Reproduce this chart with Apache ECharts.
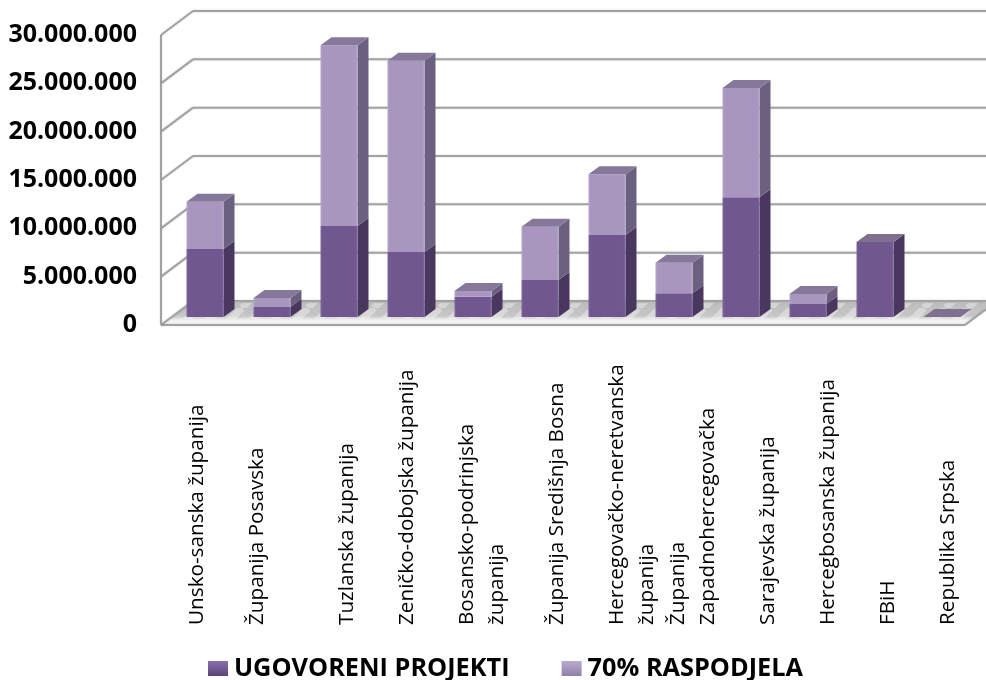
<!DOCTYPE html>
<html>
<head>
<meta charset="utf-8">
<style>html,body{margin:0;padding:0;background:#fff}#c{width:986px;height:680px;filter:blur(0.35px)}</style>
<script src="https://cdn.jsdelivr.net/npm/echarts@6/dist/echarts.min.js"></script>
</head>
<body>
<div id="c"></div>
<script>
var categories = ['Unsko-sanska županija','Županija Posavska','Tuzlanska županija','Zeničko-dobojska županija','Bosansko-podrinjska\nžupanija','Županija Središnja Bosna','Hercegovačko-neretvanska\nžupanija','Županija\nZapadnohercegovačka','Sarajevska županija','Hercegbosanska županija','FBiH','Republika Srpska'];
var ugovoreniProjekti = [7030000,1030000,9410000,6720000,2100000,3830000,8480000,2450000,12400000,1340000,7760000,0];
var raspodjela70 = [4900000,940000,18700000,19800000,600000,5500000,6300000,3150000,11300000,1040000,0,0];
var axisTicks = [0,5000000,10000000,15000000,20000000,25000000,30000000];
var seriesNames = ['UGOVORENI PROJEKTI','70% RASPODJELA'];

// layout of the pseudo-3D look (not data)
var WALL = [32,-24], BAR = [10.5,-8], DEPTH = [11,-8], BAR_W = 37, LABEL_Y = 625, LINE_GAP = 30.5;
var labelNudge = [2.5,-4.5,18.5,11.5,4.5,27.5,20.5,14.5,37.5,30.5,23.5,16.5];
var GRID_COL = '#a2a2a2';

var pat = document.createElement('canvas'); pat.width = 22; pat.height = 22;
var g = pat.getContext('2d'); g.strokeStyle = 'rgba(255,255,255,0.35)'; g.lineWidth = 7;
[[-22,22,0,0],[0,22,22,0],[22,22,44,0]].forEach(function(s){g.beginPath();g.moveTo(s[0],s[1]);g.lineTo(s[2],s[3]);g.stroke();});

function poly(pts, fill, extra){
  return Object.assign({type:'polygon', shape:{points:pts}, style:{fill:fill}, silent:true}, extra||{});
}
function wallItem(params, api){
  var i = api.value(0), v = api.value(1);
  var band = api.size([1,0])[0];
  var p = api.coord([0,v]); var x0 = p[0]-band/2, y = p[1];
  var x1 = x0 + band*categories.length;
  var line = function(a,b){return {type:'line', shape:{x1:a[0],y1:a[1],x2:b[0],y2:b[1]}, style:{stroke:GRID_COL,lineWidth:2,shadowColor:'rgba(0,0,0,0.15)',shadowBlur:2}};};
  var ch = [];
  if(v===0){
    var a=[x0,y], b=[x0+WALL[0],y+WALL[1]], c=[x1+WALL[0],y+WALL[1]], d=[x1,y];
    ch.push(poly([a,b,c,d], new echarts.graphic.LinearGradient(0,0,0,1,[{offset:0,color:'#d0d0d0'},{offset:0.1,color:'#bdbdbd'},{offset:0.62,color:'#c6c6c6'},{offset:0.8,color:'#f2f2f2'},{offset:1,color:'#f5f5f5'}])));
    ch.push(poly([[x0+4,y-6],[x0+WALL[0]-5,y+WALL[1]+2],[x1+WALL[0],y+WALL[1]+2],[x1+6,y-6]], {image:pat,repeat:'repeat'}));
    ch.push(line(a,d)); ch.push(line(d,c)); ch.push(line(a,b));
    ch.push(line(b,c));
    var top = api.coord([0,axisTicks[axisTicks.length-1]])[1];
    ch.push(line([x0,y],[x0,top]));
  } else {
    ch.push(line([x0,y],[x0+WALL[0],y+WALL[1]]));
    ch.push(line([x0+WALL[0],y+WALL[1]],[x1+WALL[0],y+WALL[1]]));
  }
  return {type:'group', children:ch};
}
function barRenderer(front, side, topc){
  return function(params, api){
    var i = api.value(0), s = api.value(1), e = api.value(2), isTop = api.value(3);
    var c0 = api.coord([i,s]), c1 = api.coord([i,e]);
    var xl = c0[0]+BAR[0]-BAR_W/2, xr = xl+BAR_W;
    var yb = c0[1]+BAR[1], yt = c1[1]+BAR[1];
    var dx = DEPTH[0], dy = DEPTH[1], ch = [];
    if(yb-yt>0.01){
      ch.push(poly([[xr,yb],[xr+dx,yb+dy],[xr+dx,yt+dy],[xr,yt]], side));
      ch.push(poly([[xl,yb],[xr,yb],[xr,yt],[xl,yt]], new echarts.graphic.LinearGradient(0,0,1,0,[{offset:0,color:front[1]},{offset:0.06,color:front[0]},{offset:0.94,color:front[0]},{offset:1,color:front[1]}])));
    }
    if(isTop){
      ch.push(poly([[xl,yt],[xl+dx,yt+dy],[xr+dx,yt+dy],[xr,yt]], topc));
    }
    return {type:'group', children:ch};
  };
}
function labelItem(params, api){
  var i = api.value(0);
  var x = api.coord([i,0])[0] + labelNudge[i];
  var lines = categories[i].split('\n');
  return {type:'group', children: lines.map(function(t,j){
    return {type:'text', x:x+j*LINE_GAP, y:LABEL_Y, rotation:Math.PI/2, silent:true,
      style:{text:t, fill:'#000', font:'20.7px "Open Sans"', align:'left', verticalAlign:'middle'}};
  })};
}
var stackA = categories.map(function(c,i){return [i,0,ugovoreniProjekti[i],raspodjela70[i]===0?1:0];});
var stackB = categories.map(function(c,i){return [i,ugovoreniProjekti[i],ugovoreniProjekti[i]+raspodjela70[i],raspodjela70[i]>0?1:0];});

var chart = echarts.init(document.getElementById('c'), null, {renderer:'canvas'});
chart.setOption({
  animation:false,
  backgroundColor:'#fff',
  grid:{left:161, right:21, top:35, bottom:355, containLabel:false},
  xAxis:{type:'category', data:categories.map(function(c){return c.replace('\n',' ');}), axisLine:{show:false}, axisTick:{show:false}, axisLabel:{show:false}, splitLine:{show:false}},
  yAxis:{type:'value', min:0, max:30000000, interval:5000000, axisLine:{show:false}, axisTick:{show:false}, splitLine:{show:false},
    axisLabel:{margin:24, color:'#000', fontFamily:'Open Sans', fontWeight:'bold', fontSize:25, padding:[0,0,6,0],
      formatter:function(v){return String(v).replace(/\B(?=(\d{3})+(?!\d))/g,'.');}}},
  legend:{left:203, top:651, itemWidth:20, itemHeight:15, itemGap:52, selectedMode:false,
    textStyle:{color:'#000', fontFamily:'Open Sans', fontWeight:'bold', fontSize:25.3, padding:[0,0,8,1]},
    data:[
      {name:seriesNames[0], icon:'rect', itemStyle:{color:new echarts.graphic.LinearGradient(0,0,0,1,[{offset:0,color:'#8a6fb0'},{offset:1,color:'#5a4478'}])}},
      {name:seriesNames[1], icon:'rect', itemStyle:{color:new echarts.graphic.LinearGradient(0,0,0,1,[{offset:0,color:'#bbaad0'},{offset:1,color:'#8f80a8'}])}}
    ]},
  series:[
    {type:'custom', name:'wall', renderItem:wallItem, data:axisTicks.map(function(v,i){return [i,v];}), encode:{x:0,y:1}, z:1, silent:true},
    {type:'custom', name:seriesNames[0], itemStyle:{color:'#71578F'}, renderItem:barRenderer(['#71578F','#7d649c'],'#49375F','#7F708F'), data:stackA, encode:{x:0,y:2}, z:3},
    {type:'custom', name:seriesNames[1], itemStyle:{color:'#A896BE'}, renderItem:barRenderer(['#A896BE','#b5a5c9'],'#6C6080','#85789A'), data:stackB, encode:{x:0,y:2}, z:4},
    {type:'custom', name:'labels', renderItem:labelItem, data:categories.map(function(c,i){return [i,0];}), encode:{x:0,y:1}, z:5, silent:true}
  ]
});
</script>
</body>
</html>
